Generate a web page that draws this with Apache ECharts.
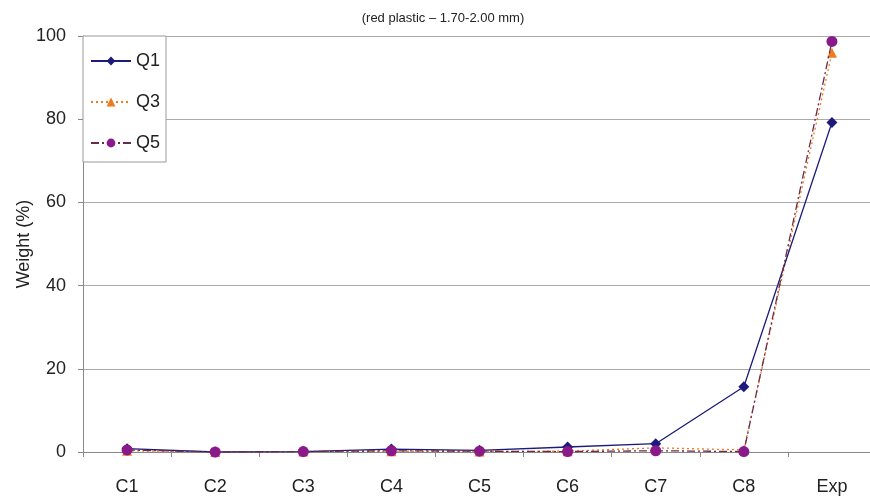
<!DOCTYPE html>
<html>
<head>
<meta charset="utf-8">
<script src="https://cdn.jsdelivr.net/npm/echarts@6/dist/echarts.min.js"></script>
<style>html,body{margin:0;padding:0;background:#fff}#c{width:870px;height:497px}</style>
</head>
<body>
<div id="c"></div>
<script>
var categories = ['C1','C2','C3','C4','C5','C6','C7','C8','Exp'];
var q1 = [0.8, 0.0, 0.1, 0.7, 0.4, 1.2, 2.0, 15.7, 79.2];
var q3 = [0.3, 0.0, 0.1, 0.2, 0.1, 0.2, 1.0, 0.5, 96.0];
var q5 = [0.5, 0.0, 0.1, 0.3, 0.2, 0.1, 0.3, 0.1, 98.7];
var yTicks = [0, 20, 40, 60, 80, 100];
var yAxisTitle = 'Weight (%)';

var font = 'Liberation Sans, Arial, sans-serif';
var chart = echarts.init(document.getElementById('c'));
chart.setOption({
  animation: false,
  backgroundColor: '#fff',
  title: {
    text: '(red plastic \u2013 1.70-2.00 mm)',
    left: 438, top: 7, textAlign: 'center',
    textStyle: {fontSize: 13, fontWeight: 'normal', color: '#222', fontFamily: font}
  },
  graphic: [{
    type: 'text', x: 24, y: 244, rotation: Math.PI / 2,
    style: {text: yAxisTitle, fontSize: 18, fill: '#222', fontFamily: font,
            align: 'center', verticalAlign: 'middle'}
  }],
  legend: {
    orient: 'vertical', left: 83, top: 36,
    padding: [16, 6, 10, 7],
    itemGap: 23, itemWidth: 40, itemHeight: 11,
    borderColor: '#999', borderWidth: 1, backgroundColor: '#fff',
    textStyle: {fontSize: 18, color: '#222', fontFamily: font},
    data: ['Q1','Q3','Q5']
  },
  grid: {left: 83, right: -6, top: 36, bottom: 45, containLabel: false, outerBoundsMode: 'none'},
  xAxis: {
    type: 'category', data: categories, boundaryGap: true,
    axisLine: {lineStyle: {color: '#888', width: 1}},
    axisTick: {show: true, length: 5, lineStyle: {color: '#888'}},
    axisLabel: {fontSize: 18, color: '#222', margin: 26, fontFamily: font}
  },
  yAxis: {
    type: 'value', min: yTicks[0], max: yTicks[yTicks.length-1], interval: 20,
    axisLine: {show: true, lineStyle: {color: '#888'}},
    axisTick: {show: true, length: 5, lineStyle: {color: '#888'}},
    axisLabel: {fontSize: 18, color: '#222', margin: 17, fontFamily: font},
    splitLine: {lineStyle: {color: '#aaa', width: 1}}
  },
  series: [
    {name: 'Q1', type: 'line', data: q1, symbol: 'diamond', symbolSize: 11,
     itemStyle: {color: '#1c1a7a'}, lineStyle: {color: '#1c1a7a', width: 1.3}, z: 3},
    {name: 'Q3', type: 'line', data: q3, symbol: 'triangle', symbolSize: 10,
     itemStyle: {color: '#f07a1e'}, lineStyle: {color: '#f07a1e', width: 1.3, type: [2, 3]}, z: 2},
    {name: 'Q5', type: 'line', data: q5, symbol: 'circle', symbolSize: 11,
     itemStyle: {color: '#8a1a8a'}, lineStyle: {color: '#6a2a4a', width: 1.3, type: [8, 3, 2, 3]}, z: 4}
  ]
});
</script>
</body>
</html>
